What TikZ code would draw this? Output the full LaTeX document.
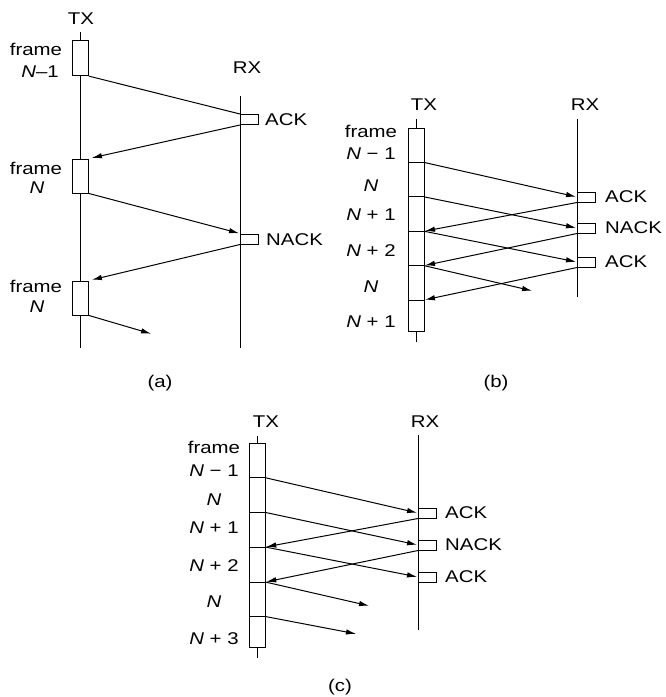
\documentclass[tikz,border=0pt]{standalone}
\usepackage{fontspec}
\setmainfont[FakeStretch=1.2]{Liberation Sans}
\usetikzlibrary{positioning,arrows.meta}

\begin{document}
\begin{tikzpicture}[
  x=1pt, y=-1pt,
  lbl/.style={font=\fontsize{17}{20}\selectfont, inner sep=0pt},
  frm/.style={draw, fill=white, minimum width=16pt, inner sep=0pt, line width=1pt},
  ackbox/.style={draw, fill=white, minimum width=18pt, minimum height=10pt,
                 inner sep=0pt, anchor=west, line width=1pt},
  seg/.style={line width=1pt},
  arr/.style={-{Latex[length=10pt,width=5.5pt]}, line width=1pt, shorten >=1pt}
]
  \useasboundingbox (0,0) rectangle (665,697);

  % (a) stop and wait
  \node[lbl] (atx) at (81,19) {TX};
  \node[lbl] (arx) at (247,68) {RX};
  \coordinate (atxtop) at (80.5,32);
  \coordinate (atxbot) at (80.5,348);
  \coordinate (arxtop) at (240,96);
  \coordinate (arxbot) at (240,348);
  \draw[seg] (atxtop) -- (atxbot);
  \draw[seg] (arxtop) -- (arxbot);

  \node[frm, minimum height=34.7pt] (af1) at (80.5,58.3) {};
  \node[frm, minimum height=34pt] (af2) at (80.5,176) {};
  \node[frm, minimum height=34pt] (af3) at (80.5,298) {};

  \node[lbl] (af1t) at (36,49) {frame};
  \node[lbl] (af1n) at (40,72) {\textit{N}–1};
  \node[lbl] (af2t) at (36,168) {frame};
  \node[lbl] (af2n) at (37,188) {\textit{N}};
  \node[lbl] (af3t) at (36,286) {frame};
  \node[lbl] (af3n) at (37,307) {\textit{N}};

  \node[ackbox] (aack) at (240,119.5) {};
  \node[ackbox] (anack) at (240,239) {};
  \node[lbl, anchor=west] (aackt) at (265,120) {ACK};
  \node[lbl, anchor=west] (anackt) at (266,240) {NACK};

  \coordinate (aout) at (152,334);
  \draw[seg] (af1.south east) -- (aack.north west);
  \draw[arr, shorten >=3pt] (aack.south west) -- (af2.north east);
  \draw[arr] (af2.south east) -- (anack.north west);
  \draw[arr, shorten >=3pt] (anack.south west) -- (af3.north east);
  \draw[arr] (af3.south east) -- (aout);

  \node[lbl] (acap) at (160,383) {(a)};

  % (b) go back N
  \node[lbl] (btx) at (424,105) {TX};
  \node[lbl] (brx) at (585,105) {RX};
  \coordinate (btxtop) at (416,119);
  \coordinate (btxbot) at (416,342);
  \coordinate (brxtop) at (577,119);
  \coordinate (brxbot) at (577,297);
  \draw[seg] (btxtop) -- (btxbot);
  \draw[seg] (brxtop) -- (brxbot);

  \node[frm, minimum height=203pt] (bbox) at (416,229.5) {};
  \foreach \y [count=\k] in {162.4,196.8,231.2,265.6,300} {
    \coordinate (bw\k) at (408,\y);
    \coordinate (be\k) at (424,\y);
    \draw[seg] (bw\k) -- (be\k);
  }
  \foreach \t/\y [count=\i] in {frame/131, {\textit{N} − 1}/154, {\textit{N}}/186,
      {\textit{N} + 1}/215, {\textit{N} + 2}/251, {\textit{N}}/287, {\textit{N} + 1}/322}
    \node[lbl] (bl\i) at (371,\y) {\t};

  \node[ackbox] (back1) at (577,197) {};
  \node[ackbox] (bnack) at (577,228) {};
  \node[ackbox] (back2) at (577,262) {};
  \node[lbl, anchor=west] (back1t) at (605,197) {ACK};
  \node[lbl, anchor=west] (bnackt) at (605,228) {NACK};
  \node[lbl, anchor=west] (back2t) at (605,262) {ACK};

  \coordinate (bout) at (533,291);
  \draw[arr] (be1) -- (back1.west);
  \draw[arr] (be2) -- (bnack.west);
  \draw[arr] (back1.south west) -- (be3);
  \draw[arr] (be3) -- (back2.west);
  \draw[arr] (bnack.south west) -- (be4);
  \draw[arr] (be4) -- (bout);
  \draw[arr] (back2.south west) -- (be5);

  \node[lbl] (bcap) at (496,383) {(b)};

  % (c) selective repeat
  \node[lbl] (ctx) at (266,422) {TX};
  \node[lbl] (crx) at (425,422) {RX};
  \coordinate (ctxtop) at (257.3,436);
  \coordinate (ctxbot) at (257.3,658);
  \coordinate (crxtop) at (418,435);
  \coordinate (crxbot) at (418,630);
  \draw[seg] (ctxtop) -- (ctxbot);
  \draw[seg] (crxtop) -- (crxbot);

  \node[frm, minimum height=204pt] (cbox) at (257.3,545) {};
  \foreach \y [count=\k] in {477.7,512.4,547,582,616.5} {
    \coordinate (cw\k) at (249.3,\y);
    \coordinate (ce\k) at (265.3,\y);
    \draw[seg] (cw\k) -- (ce\k);
  }
  \foreach \t/\y [count=\i] in {frame/447, {\textit{N} − 1}/471, {\textit{N}}/500,
      {\textit{N} + 1}/528, {\textit{N} + 2}/566, {\textit{N}}/602, {\textit{N} + 3}/639}
    \node[lbl] (cl\i) at (214,\y) {\t};

  \node[ackbox] (cack1) at (418,513) {};
  \node[ackbox] (cnack) at (418,545) {};
  \node[ackbox] (cack2) at (418,577) {};
  \node[lbl, anchor=west] (cack1t) at (445,513) {ACK};
  \node[lbl, anchor=west] (cnackt) at (445,545) {NACK};
  \node[lbl, anchor=west] (cack2t) at (445,577) {ACK};

  \coordinate (cout1) at (370,606);
  \coordinate (cout2) at (357,634);
  \draw[arr] (ce1) -- (cack1.west);
  \draw[arr] (ce2) -- (cnack.west);
  \draw[arr] (cack1.south west) -- (ce3);
  \draw[arr] (ce3) -- (cack2.west);
  \draw[arr] (cnack.south west) -- (ce4);
  \draw[arr] (ce4) -- (cout1);
  \draw[arr] (ce5) -- (cout2);

  \node[lbl] (ccap) at (340,687) {(c)};
\end{tikzpicture}
\end{document}
